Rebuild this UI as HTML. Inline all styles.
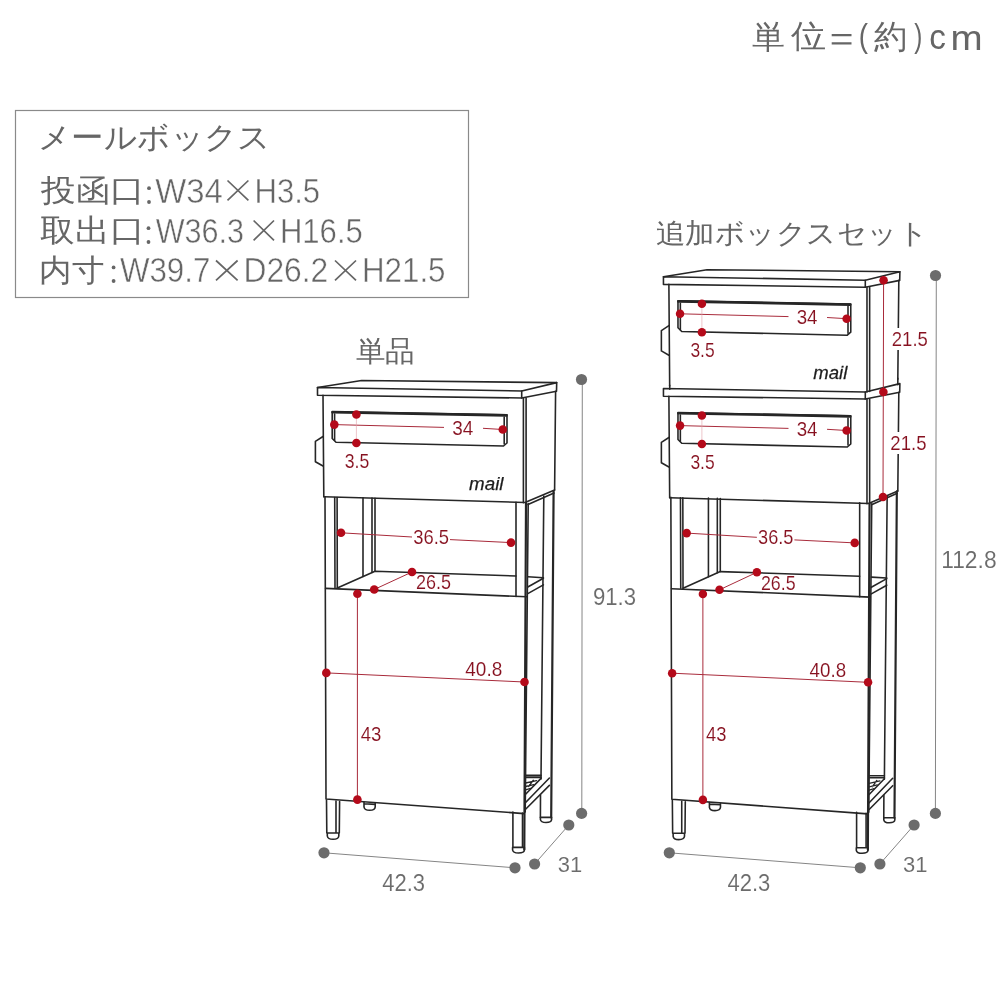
<!DOCTYPE html>
<html><head><meta charset="utf-8">
<style>
html,body{margin:0;padding:0;background:#fff;width:1000px;height:1000px;overflow:hidden}
svg{position:absolute;left:0;top:0;will-change:transform}
text{font-family:"Liberation Sans",sans-serif}
.d{fill:none;stroke:#262626;stroke-width:1.6;stroke-linejoin:round;stroke-linecap:round}
.rl{fill:none;stroke:#a82a3a;stroke-width:1}
.rd{fill:#b40a1a}
.gl{fill:none;stroke:#858585;stroke-width:1}
.gd{fill:#6c6c6c}
.thin{stroke:#fff;stroke-width:0.1px}
.thinb{stroke:#fff;stroke-width:0.5px}
.mailt{stroke:#1c1c1c;stroke-width:0.25px}
</style></head><body>
<svg width="1000" height="1000" viewBox="0 0 1000 1000">
<defs>
  <g id="boxfront">
    <path class="d" d="M317.5,387.5 L521.7,391 L521.7,398 L317.5,395.2 Z"/>
    <path class="d" d="M521.7,391 L556.7,382.6 L556.5,391.2 L521.7,398"/>
    <path class="d" d="M323,395.2 L323.8,496.7"/>
    <path class="d" d="M523.4,398 L523.4,502.7 M526.1,398 L526.1,502.2"/>
    <path class="d" d="M555.6,391.2 L554.6,490"/>
    <path class="d" d="M332.2,411.6 L507,414.8 L507,443 L503.5,446 L336,442.3 L332.2,438.5 Z"/>
    <path class="d" style="stroke-width:2.6" d="M332.5,412.2 L506.5,415.4"/>
    <path class="d" d="M334.6,414 L334.6,440.5 M504.2,417 L504.2,444"/>
    <path class="d" d="M323,436.5 L315.4,441.4 L315.4,461.7 L323,466"/>
  </g>
  <g id="boxbottom">
    <path class="d" d="M323.8,496.7 L525,502.5 L554.6,490"/>
  </g>
  <g id="topext">
    <path class="d" d="M323.8,496 L323.9,500 M554.6,489 L554.6,495.6"/>
  </g>
  <g id="lidtop">
    <path class="d" d="M317.5,387.5 L361.6,380.5 L556.7,382.6"/>
  </g>
  <g id="frame">
    <path class="d" d="M325,497 L326,799 L524,813.6"/>
    <path class="d" d="M334.7,497.5 L335,588 M337.1,497.5 L337.3,588"/>
    <path class="d" d="M363,497.8 L363,576.4 M372,498 L372,572.5 M375,498.2 L375,571.3"/>
    <path class="d" d="M337.3,588 L375,571.3 L516,576"/>
    <path class="d" d="M516,502.4 L516,596.5"/>
    <path class="d" d="M528,504.5 L554,493"/>
    <path class="d" d="M543.8,496 L541,779 M540.5,795 L540.4,817.4"/>
    <path class="d" style="stroke-width:2.2" d="M553.6,491 L551.2,817.4"/>
    <path class="d" d="M540.4,817.4 L551.4,817.4 M540.4,817.4 L540.4,819.5 Q540.8,822.5 546,822.5 Q551.4,822.5 551.6,819.5 L551.6,817.4"/>
    <path class="d" d="M527.8,576.8 L543.4,577.7 M527.8,587 L543.4,578.3 M527.8,593.6 L543.4,584.9"/>
    <path class="d" d="M325.6,588.4 L526.6,596.8"/>
    <path class="d" style="stroke-width:2.2" d="M526,503 L524.3,849.5"/>
    <path class="d" d="M528.2,503.5 L525.2,812"/>
    <path class="d" d="M326.5,800 L326.8,833 M339.6,801.5 L339.3,833 M336,801 L336,833 M326.8,833 L339.3,833 M327.3,833 L327.3,836 Q327.8,839.3 333,839.3 Q338.5,839.3 338.8,836 L338.8,833"/>
    <path class="d" d="M512.9,812 L512.9,847.4 M522.5,813 L522.5,847.4 M512.9,847.4 L524.3,847.4 M512.6,847.4 L512.6,850 Q513,853 518.5,853 Q524.2,853 524.4,850 L524.4,847.4"/>
    <path class="d" d="M364,802.3 L364,807 Q364.5,810.3 369.6,810.3 Q375,810.3 375.2,807 L375.2,803.5 M364,803.8 L375.2,804.4"/>
    <path class="d" d="M525.6,775.4 L541,775.4 M525.6,777.4 L541,777.4"/>
    <path class="d" d="M525.6,794.2 L541,778.4 M525.6,802.5 L549.4,778 M525.6,809.2 L549.4,785.4"/>
    <path class="d" style="stroke-width:1.3" d="M525.6,783 L536.5,780.6 M525.6,786.5 L533.8,784.6 M525.6,789.8 L530.6,788.4 M528.7,786.5 L533.3,780.2"/>
  </g>
  <g id="reddims">
    <path class="rl" d="M341,532.8 L412,537 M450,539.6 L511,542.6"/>
    <circle class="rd" cx="341" cy="532.8" r="4.3"/><circle class="rd" cx="511" cy="542.6" r="4.3"/>
    <text class="thin" x="413.26" y="543.79" textLength="35.79" lengthAdjust="spacingAndGlyphs" style="font-size:20.70px;fill:#86101f;">36.5</text>
    <path class="rl" d="M412,572 L374.2,589.5"/>
    <circle class="rd" cx="412" cy="572" r="4.3"/><circle class="rd" cx="374.2" cy="589.5" r="4.3"/>
    <text class="thin" x="416.10" y="589.30" textLength="35.04" lengthAdjust="spacingAndGlyphs" style="font-size:19.72px;fill:#86101f;">26.5</text>
    <path class="rl" d="M326.3,672.9 L524.5,682"/>
    <circle class="rd" cx="326.3" cy="672.9" r="4.3"/><circle class="rd" cx="524.5" cy="682" r="4.3"/>
    <text class="thin" x="465.32" y="676.39" textLength="36.96" lengthAdjust="spacingAndGlyphs" style="font-size:20.56px;fill:#86101f;">40.8</text>
    <path class="rl" d="M357.4,593.7 L357.4,799.6"/>
    <circle class="rd" cx="357.4" cy="593.7" r="4.3"/><circle class="rd" cx="357.4" cy="799.6" r="4.3"/>
    <text class="thin" x="360.63" y="740.60" textLength="20.66" lengthAdjust="spacingAndGlyphs" style="font-size:19.72px;fill:#86101f;">43</text>
  </g>
  <g id="slotdims">
    <path class="rl" d="M334.3,424.6 L444,427.4 M483,428.3 L502.8,429.5"/>
    <path class="rl" style="stroke-width:0.6;stroke:#e0a0a8" d="M356.4,414.5 L356.4,443"/>
    <circle class="rd" cx="334.3" cy="424.6" r="4.3"/><circle class="rd" cx="502.8" cy="429.5" r="4.3"/>
    <circle class="rd" cx="356.4" cy="414.5" r="4.3"/><circle class="rd" cx="356.4" cy="443" r="4.3"/>
    <text class="thin" x="452.24" y="434.79" textLength="21.07" lengthAdjust="spacingAndGlyphs" style="font-size:20.56px;fill:#86101f;">34</text>
    <text class="thin" x="344.79" y="467.80" textLength="24.51" lengthAdjust="spacingAndGlyphs" style="font-size:20.00px;fill:#86101f;">3.5</text>
  </g>
  <g id="bottomdims">
    <path class="gl" d="M324,852.8 L515,867.8 M534.6,864 L568.8,825"/>
    <circle class="gd" cx="324" cy="852.8" r="5.6"/><circle class="gd" cx="515" cy="867.8" r="5.6"/>
    <circle class="gd" cx="534.6" cy="864" r="5.6"/><circle class="gd" cx="568.8" cy="825" r="5.6"/>
    <text class="thin" x="382.16" y="890.96" textLength="42.86" lengthAdjust="spacingAndGlyphs" style="font-size:24.23px;fill:#6b6b6b;">42.3</text>
    <text class="thin" x="557.72" y="871.77" textLength="24.43" lengthAdjust="spacingAndGlyphs" style="font-size:22.54px;fill:#6b6b6b;">31</text>
  </g>
</defs>

<!-- header -->
<text x="752.34" y="47.70" textLength="32.98" lengthAdjust="spacingAndGlyphs" style="font-size:32.50px;fill:#666666;">単</text><text x="790.70" y="47.42" textLength="35.21" lengthAdjust="spacingAndGlyphs" style="font-size:32.15px;fill:#666666;">位</text>
<path d="M831.7,35.2 L851.5,35.2 M831.7,43.3 L851.5,43.3" stroke="#666" stroke-width="2.2"/>
<text x="858.84" y="47.26" textLength="9.23" lengthAdjust="spacingAndGlyphs" style="font-size:32.55px;fill:#666666;">(</text><text x="873.67" y="48.02" textLength="33.26" lengthAdjust="spacingAndGlyphs" style="font-size:32.90px;fill:#666666;">約</text><text x="914.26" y="47.26" textLength="8.07" lengthAdjust="spacingAndGlyphs" style="font-size:32.55px;fill:#666666;">)</text><text x="929.37" y="49.26" textLength="16.63" lengthAdjust="spacingAndGlyphs" style="font-size:34.36px;fill:#666666;">c</text><text x="950.50" y="49.60" textLength="32.13" lengthAdjust="spacingAndGlyphs" style="font-size:35.00px;fill:#666666;">m</text>

<rect x="15.5" y="110.5" width="453" height="187" fill="none" stroke="#8a8a8a" stroke-width="1.2"/>
<text x="37.72" y="148.44" textLength="233.19" lengthAdjust="spacingAndGlyphs" style="font-size:31.25px;fill:#666666;">メールボックス</text>
<text x="41.00" y="200.73" textLength="103.89" lengthAdjust="spacingAndGlyphs" style="font-size:30.53px;fill:#666666;">投函口</text><circle cx="149" cy="188.2" r="1.9" fill="#666"/><circle cx="149" cy="202" r="1.9" fill="#666"/>
<text class="thinb" x="155.27" y="202.85" textLength="67.59" lengthAdjust="spacingAndGlyphs" style="font-size:34.93px;fill:#666666;">W34</text><path d="M227.5,180.5 L248.4,200.4 M248.4,180.5 L227.5,200.4" stroke="#666" stroke-width="1.7" fill="none"/><text class="thinb" x="254.52" y="202.85" textLength="65.55" lengthAdjust="spacingAndGlyphs" style="font-size:34.93px;fill:#666666;">H3.5</text>
<text x="40.30" y="241.30" textLength="104.63" lengthAdjust="spacingAndGlyphs" style="font-size:30.85px;fill:#666666;">取出口</text><circle cx="148.5" cy="228.2" r="1.9" fill="#666"/><circle cx="148.5" cy="242" r="1.9" fill="#666"/>
<text class="thinb" x="155.69" y="242.85" textLength="88.33" lengthAdjust="spacingAndGlyphs" style="font-size:34.93px;fill:#666666;">W36.3</text><path d="M253.6,220.5 L274,240.4 M274,220.5 L253.6,240.4" stroke="#666" stroke-width="1.7" fill="none"/><text class="thinb" x="279.92" y="242.85" textLength="82.88" lengthAdjust="spacingAndGlyphs" style="font-size:34.93px;fill:#666666;">H16.5</text>
<text x="39.40" y="281.03" textLength="65.11" lengthAdjust="spacingAndGlyphs" style="font-size:30.53px;fill:#666666;">内寸</text><circle cx="113.6" cy="267.4" r="1.9" fill="#666"/><circle cx="113.6" cy="281" r="1.9" fill="#666"/>
<text class="thinb" x="119.89" y="281.85" textLength="90.48" lengthAdjust="spacingAndGlyphs" style="font-size:34.93px;fill:#666666;">W39.7</text><path d="M216,260.5 L237.6,280.4 M237.6,260.5 L216,280.4" stroke="#666" stroke-width="1.7" fill="none"/><text class="thinb" x="243.46" y="281.85" textLength="84.79" lengthAdjust="spacingAndGlyphs" style="font-size:34.93px;fill:#666666;">D26.2</text><path d="M335,260.5 L356,280.4 M356,260.5 L335,280.4" stroke="#666" stroke-width="1.7" fill="none"/><text class="thinb" x="362.00" y="281.85" textLength="83.51" lengthAdjust="spacingAndGlyphs" style="font-size:34.93px;fill:#666666;">H21.5</text>

<text x="355.91" y="360.98" textLength="59.16" lengthAdjust="spacingAndGlyphs" style="font-size:29.35px;fill:#666666;">単品</text>
<text x="655.61" y="242.81" textLength="272.65" lengthAdjust="spacingAndGlyphs" style="font-size:28.42px;fill:#666666;">追加ボックスセット</text>

<!-- LEFT ITEM -->
<use href="#frame"/>
<use href="#boxfront"/>
<use href="#boxbottom"/>
<use href="#lidtop"/>
<text class="mailt" x="469.12" y="490.31" textLength="34.38" lengthAdjust="spacingAndGlyphs" style="font-size:18.92px;fill:#1c1c1c;font-style:italic;">mail</text>
<use href="#slotdims"/>
<use href="#reddims"/>
<use href="#bottomdims"/>
<path class="gl" d="M582.3,379.5 L581.8,813.4"/>
<circle class="gd" cx="581.5" cy="379.5" r="5.6"/><circle class="gd" cx="581.6" cy="813.4" r="5.6"/>
<text class="thin" x="592.89" y="604.75" textLength="43.14" lengthAdjust="spacingAndGlyphs" style="font-size:24.65px;fill:#6b6b6b;">91.3</text>

<!-- RIGHT ITEM -->
<g transform="matrix(0.9885,0,0,1,349.6,0.3)">
  <use href="#frame"/>
  <use href="#reddims"/>
</g>
<g transform="matrix(0.9885,0,0,1,349.6,1)">
  <use href="#boxfront"/>
  <use href="#boxbottom"/>
  <use href="#slotdims"/>
</g>
<g transform="translate(345.3,0)"><use href="#bottomdims"/></g>
<g transform="matrix(0.9885,0,0,1,349.6,-110.8)">
  <use href="#boxfront"/>
  <use href="#topext"/>
  <use href="#lidtop"/>
  <text class="mailt" x="469.12" y="490.31" textLength="34.38" lengthAdjust="spacingAndGlyphs" style="font-size:18.92px;fill:#1c1c1c;font-style:italic;">mail</text>
  <use href="#slotdims"/>
</g>
<rect x="889" y="328" width="40" height="22" fill="#fff"/>
<rect x="888" y="432" width="40" height="22" fill="#fff"/>
<path class="rl" d="M883.6,280.3 L883,497"/>
<circle class="rd" cx="883.6" cy="280.3" r="4.3"/><circle class="rd" cx="883.4" cy="392" r="4.3"/><circle class="rd" cx="883" cy="497" r="4.3"/>
<text class="thin" x="891.77" y="345.80" textLength="36.09" lengthAdjust="spacingAndGlyphs" style="font-size:19.72px;fill:#86101f;">21.5</text>
<text class="thin" x="890.37" y="449.80" textLength="36.09" lengthAdjust="spacingAndGlyphs" style="font-size:19.72px;fill:#86101f;">21.5</text>
<path class="gl" d="M936.3,275.5 L935.4,813.4"/>
<circle class="gd" cx="935.5" cy="275.5" r="5.6"/><circle class="gd" cx="935.4" cy="813.4" r="5.6"/>
<text class="thin" x="941.17" y="567.76" textLength="55.43" lengthAdjust="spacingAndGlyphs" style="font-size:23.94px;fill:#6b6b6b;">112.8</text>
</svg>
</body></html>
